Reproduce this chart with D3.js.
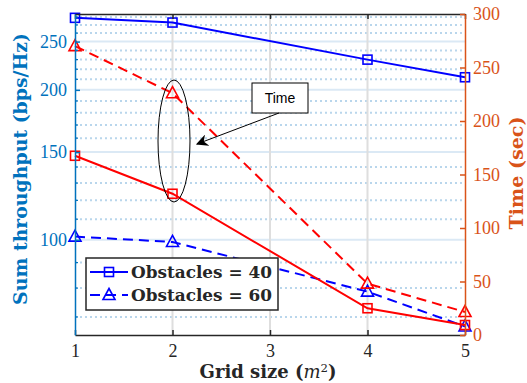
<!DOCTYPE html>
<html>
<head>
<meta charset="utf-8">
<script src="https://cdn.jsdelivr.net/npm/d3@7"></script>
<style>
  body { margin: 0; background: #fff; }
  svg { display: block; }
</style>
</head>
<body>
<svg id="chart"></svg>
<script>
// chart size
let width = 527, height = 383;
let margin = {top: 14, right: 62, bottom: 48, left: 75};

// data
let gridSizes = [1, 2, 4, 5];
let throughput40 = [279, 273, 230, 212];
let throughput60 = [101.5, 99, 78.7, 67];
let time40 = [167.5, 132, 25, 9.3];
let time60 = [270, 226, 48, 21.5];
let xTicks = [1, 2, 3, 4, 5];
let leftTicks = [100, 150, 200, 250];
let leftMinor = [70, 80, 90, 110, 120, 130, 140, 160, 170, 180, 190, 210, 220, 230, 240, 260, 270, 280];
let rightTicks = [0, 50, 100, 150, 200, 250, 300];
let legendLabels = ["Obstacles = 40", "Obstacles = 60"];

let serif = "'Liberation Serif', 'DejaVu Serif', serif";
let wideSerif = "'DejaVu Serif', serif";
let blueAxis = "#0072BD", orangeAxis = "#D95319";

let svg = d3.select("#chart")
    .attr("width", width)
    .attr("height", height);

let x = d3.scaleLinear().domain([1, 5]).range([margin.left, width - margin.right]);
let yL = d3.scaleLog().domain([64.4, 284]).range([height - margin.bottom, margin.top]);
let yR = d3.scaleLinear().domain([0, 300]).range([height - margin.bottom, margin.top]);

let x0 = margin.left, x1 = width - margin.right;
let y0 = height - margin.bottom, y1 = margin.top;

// shrink/grow a text so it spans a given width
function fitWidth(sel, target) {
  let w = sel.node().getComputedTextLength();
  let fs = +sel.attr("font-size");
  sel.attr("font-size", (fs * target / w).toFixed(2));
}

// grid
let grid = svg.append("g");
grid.selectAll(".minor").data(leftMinor).enter().append("line")
    .attr("x1", x0).attr("x2", x1)
    .attr("y1", d => yL(d)).attr("y2", d => yL(d))
    .attr("stroke", "#b9d6ec").attr("stroke-width", 2)
    .attr("stroke-dasharray", "2,3");
grid.selectAll(".major").data(leftTicks).enter().append("line")
    .attr("x1", x0).attr("x2", x1)
    .attr("y1", d => yL(d)).attr("y2", d => yL(d))
    .attr("stroke", "#dbe9f5").attr("stroke-width", 2);
grid.selectAll(".vgrid").data(xTicks.slice(1, -1)).enter().append("line")
    .attr("x1", d => x(d)).attr("x2", d => x(d))
    .attr("y1", y1).attr("y2", y0)
    .attr("stroke", "#dedede").attr("stroke-width", 2);

// series
let series = [
  {vals: throughput40, y: yL, color: "#0000ff", dash: null, marker: "square"},
  {vals: throughput60, y: yL, color: "#0000ff", dash: "10,6", marker: "triangle"},
  {vals: time40, y: yR, color: "#ff0000", dash: null, marker: "square"},
  {vals: time60, y: yR, color: "#ff0000", dash: "10,6", marker: "triangle"}
];

function drawMarker(g, type, cx, cy, color) {
  if (type === "square") {
    g.append("rect")
      .attr("x", cx - 4.5).attr("y", cy - 4.5)
      .attr("width", 9).attr("height", 9)
      .attr("fill", "none").attr("stroke", color).attr("stroke-width", 1.6);
  } else {
    g.append("path")
      .attr("d", `M${cx},${cy - 6.5}L${cx + 6},${cy + 4.5}L${cx - 6},${cy + 4.5}Z`)
      .attr("fill", "none").attr("stroke", color).attr("stroke-width", 1.6);
  }
}

series.forEach(s => {
  let line = d3.line().x((d, i) => x(gridSizes[i])).y(d => s.y(d));
  svg.append("path")
    .datum(s.vals)
    .attr("d", line)
    .attr("fill", "none")
    .attr("stroke", s.color)
    .attr("stroke-width", 2)
    .attr("stroke-dasharray", s.dash);
  let mg = svg.append("g");
  s.vals.forEach((v, i) => drawMarker(mg, s.marker, x(gridSizes[i]), s.y(v), s.color));
});

// axes
let xAxis = svg.append("g")
    .attr("transform", `translate(0,${y0})`)
    .call(d3.axisBottom(x).tickValues(xTicks).tickFormat(d3.format("d")).tickSizeInner(-5).tickSizeOuter(0).tickPadding(9));
xAxis.select(".domain").attr("stroke", "#262626").attr("stroke-width", 1.5);
xAxis.selectAll(".tick line").attr("stroke", "#262626").attr("stroke-width", 1.5);
xAxis.selectAll("text").attr("font-family", serif).attr("font-size", 18).attr("fill", "#262626");

// top border
let topAxis = svg.append("g")
    .attr("transform", `translate(0,${y1})`)
    .call(d3.axisTop(x).tickValues(xTicks).tickFormat("").tickSizeInner(-5).tickSizeOuter(0));
topAxis.select(".domain").attr("stroke", "#262626").attr("stroke-width", 1.5);
topAxis.selectAll(".tick line").attr("stroke", "#262626").attr("stroke-width", 1.5);

let leftAxis = svg.append("g")
    .attr("transform", `translate(${x0},0)`)
    .call(d3.axisLeft(yL).tickValues(leftTicks).tickFormat(d3.format("d")).tickSizeInner(-5).tickSizeOuter(0).tickPadding(8));
leftAxis.select(".domain").attr("stroke", blueAxis).attr("stroke-width", 1.5);
leftAxis.selectAll(".tick line").attr("stroke", blueAxis).attr("stroke-width", 1.5);
leftAxis.selectAll("text").attr("font-family", serif).attr("font-size", 18).attr("fill", blueAxis);
leftAxis.append("g").selectAll("line").data(leftMinor).enter().append("line")
    .attr("x1", 0).attr("x2", 3)
    .attr("y1", d => yL(d)).attr("y2", d => yL(d))
    .attr("stroke", blueAxis).attr("stroke-width", 1.2);

let rightAxis = svg.append("g")
    .attr("transform", `translate(${x1},0)`)
    .call(d3.axisRight(yR).tickValues(rightTicks).tickSizeInner(-5).tickSizeOuter(0).tickPadding(8));
rightAxis.select(".domain").attr("stroke", orangeAxis).attr("stroke-width", 1.5);
rightAxis.selectAll(".tick line").attr("stroke", orangeAxis).attr("stroke-width", 1.5);
rightAxis.selectAll("text").attr("font-family", serif).attr("font-size", 18).attr("fill", orangeAxis);

// axis titles
let leftTitle = svg.append("text")
    .attr("transform", `translate(27,169) rotate(-90)`)
    .attr("text-anchor", "middle")
    .attr("font-family", wideSerif).attr("font-size", 16).attr("font-weight", "bold")
    .attr("fill", blueAxis)
    .text("Sum throughput (bps/Hz)");
fitWidth(leftTitle, 272);

let rightTitle = svg.append("text")
    .attr("transform", `translate(523,173) rotate(-90)`)
    .attr("text-anchor", "middle")
    .attr("font-family", wideSerif).attr("font-size", 16).attr("font-weight", "bold")
    .attr("fill", orangeAxis)
    .text("Time (sec)");
fitWidth(rightTitle, 113);

let xl = svg.append("text")
    .attr("x", 268).attr("y", 378)
    .attr("text-anchor", "middle")
    .attr("font-family", wideSerif).attr("font-size", 15).attr("font-weight", "bold")
    .attr("fill", "#262626");
xl.append("tspan").text("Grid size (");
xl.append("tspan").attr("font-style", "italic").attr("font-weight", "normal").text("m");
xl.append("tspan").style("font-size", "0.65em").attr("dy", -6).attr("font-weight", "normal").text("2");
xl.append("tspan").attr("dy", 6).text(")");
fitWidth(xl, 137);

// legend
let legend = svg.append("g");
legend.append("rect")
    .attr("x", 86).attr("y", 258).attr("width", 192).attr("height", 52)
    .attr("fill", "#fff").attr("stroke", "#262626").attr("stroke-width", 1.5);
legendLabels.forEach((lab, i) => {
  let ly = 272 + i * 23;
  legend.append("line")
    .attr("x1", 90).attr("x2", 128).attr("y1", ly).attr("y2", ly)
    .attr("stroke", "#0000ff").attr("stroke-width", 2)
    .attr("stroke-dasharray", i === 0 ? null : "10,6");
  drawMarker(legend, i === 0 ? "square" : "triangle", 109, ly, "#0000ff");
  let t = legend.append("text")
    .attr("x", 131).attr("y", ly + 5.5)
    .attr("font-family", wideSerif).attr("font-size", 15).attr("font-weight", "bold")
    .attr("fill", "#262626")
    .text(lab);
  fitWidth(t, 141);
});

// annotation: ellipse + text arrow
svg.append("ellipse")
    .attr("cx", 174).attr("cy", 141).attr("rx", 16).attr("ry", 61)
    .attr("fill", "none").attr("stroke", "#000").attr("stroke-width", 1);
svg.append("rect")
    .attr("x", 252).attr("y", 83).attr("width", 56).attr("height", 30)
    .attr("fill", "#fff").attr("stroke", "#000").attr("stroke-width", 1);
svg.append("text")
    .attr("x", 280).attr("y", 103)
    .attr("text-anchor", "middle")
    .attr("font-family", "'Liberation Sans', Arial, sans-serif").attr("font-size", 14)
    .text("Time");
svg.append("defs").append("marker")
    .attr("id", "arrow").attr("viewBox", "0 0 10 10")
    .attr("refX", 9).attr("refY", 5)
    .attr("markerWidth", 12).attr("markerHeight", 12).attr("markerUnits", "userSpaceOnUse")
    .attr("orient", "auto")
    .append("path").attr("d", "M0,0L10,5L0,10L3,5Z").attr("fill", "#000");
svg.append("line")
    .attr("x1", 279).attr("y1", 113).attr("x2", 197).attr("y2", 144)
    .attr("stroke", "#000").attr("stroke-width", 1)
    .attr("marker-end", "url(#arrow)");
</script>
</body>
</html>
